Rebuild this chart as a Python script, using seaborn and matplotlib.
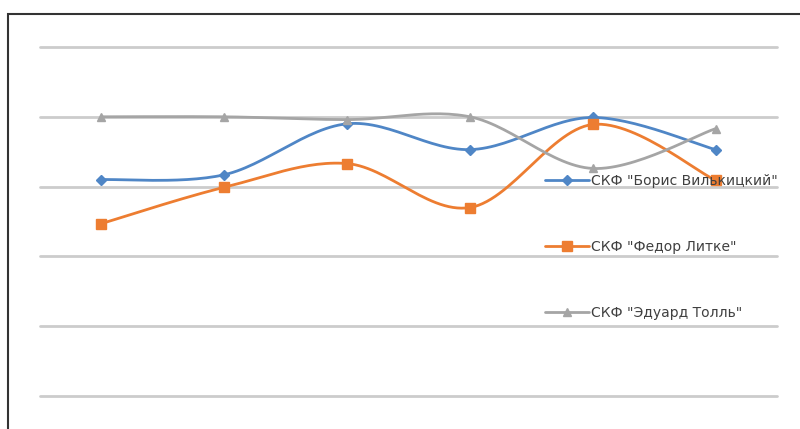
import numpy as np
import pandas as pd
import matplotlib
matplotlib.use("Agg")
import matplotlib.pyplot as plt
import seaborn as sns
from matplotlib.lines import Line2D
from matplotlib.patches import Rectangle

# ---- data (no axis labels are shown) ----
categories = ["1", "2", "3", "4", "5", "6"]
series_names = ['СКФ "Борис Вилькицкий"', 'СКФ "Федор Литке"', 'СКФ "Эдуард Толль"']
vilkitsky = [3.10, 3.17, 3.90, 3.53, 3.99, 3.53]
litke = [2.47, 2.99, 3.33, 2.70, 3.89, 3.09]
toll = [4.00, 4.00, 3.96, 4.00, 3.26, 3.83]
y_ticks = [0, 1, 2, 3, 4, 5]

colors = ["#4f86c6", "#ed7d31", "#a5a5a5"]
markers = ["D", "s", "^"]
msizes = [5, 7, 6]

sns.set_theme(style="white")
plt.rcParams["font.family"] = ["DejaVu Sans"]

fig = plt.figure(figsize=(8, 4.29), dpi=100)
ax = fig.add_axes([40 / 800, 1 - 396 / 429, (777 - 40) / 800, (396 - 47) / 429])


def smooth(xv, yv, n=30):
    """Catmull-Rom style Bezier smoothing (like Excel's smoothed line)."""
    xv = np.asarray(xv, float)
    yv = np.asarray(yv, float)
    P = np.column_stack([xv, yv])
    Pe = np.vstack([P[0], P, P[-1]])
    out = []
    t = np.linspace(0, 1, n)[:, None]
    for i in range(len(P) - 1):
        p0, p1, p2, p3 = Pe[i], Pe[i + 1], Pe[i + 2], Pe[i + 3]
        c1 = p1 + (p2 - p0) / 6
        c2 = p2 - (p3 - p1) / 6
        seg = ((1 - t) ** 3) * p1 + 3 * ((1 - t) ** 2) * t * c1 + 3 * (1 - t) * t ** 2 * c2 + t ** 3 * p2
        out.append(seg if i == 0 else seg[1:])
    out = np.vstack(out)
    return out[:, 0], out[:, 1]


xpos = np.arange(len(categories))
all_series = [vilkitsky, litke, toll]
handles = []
for vals, name, c, m, ms in zip(all_series, series_names, colors, markers, msizes):
    sx, sy = smooth(xpos, vals)
    df = pd.DataFrame({"x": sx, "y": sy})
    sns.lineplot(data=df, x="x", y="y", sort=False, color=c, linewidth=2, ax=ax)
    ax.plot(xpos, vals, linestyle="none", marker=m, markersize=ms, color=c, zorder=5)
    handles.append(Line2D([0], [0], color=c, linewidth=2, marker=m, markersize=ms))

ax.set_xlim(-0.5, len(categories) - 0.5)
ax.set_ylim(y_ticks[0], y_ticks[-1])
ax.set_yticks(y_ticks)
ax.set_xticks([])
ax.set_yticklabels([])
ax.yaxis.grid(True, color="#cccccc", linewidth=2)
for gl in ax.get_ygridlines():
    gl.set_clip_on(False)
ax.set_axisbelow(True)
for s in ax.spines.values():
    s.set_visible(False)
ax.tick_params(left=False, bottom=False)
ax.set_xlabel("")
ax.set_ylabel("")

leg = fig.legend(handles, series_names, loc="upper left",
                 bbox_to_anchor=(545 / 800, 1 - 174 / 429), bbox_transform=fig.transFigure,
                 frameon=False, fontsize=10, labelspacing=3.75, handlelength=3.2,
                 handletextpad=0.1, borderpad=0, borderaxespad=0)
for t in leg.get_texts():
    t.set_color("#404040")

fig.patches.append(Rectangle((8 / 800, -0.05), 1.0, 1 - 14 / 429 + 0.05,
                             transform=fig.transFigure, fill=False,
                             edgecolor="#333333", linewidth=1.5))

fig.savefig("out.png", dpi=100, facecolor="white")
